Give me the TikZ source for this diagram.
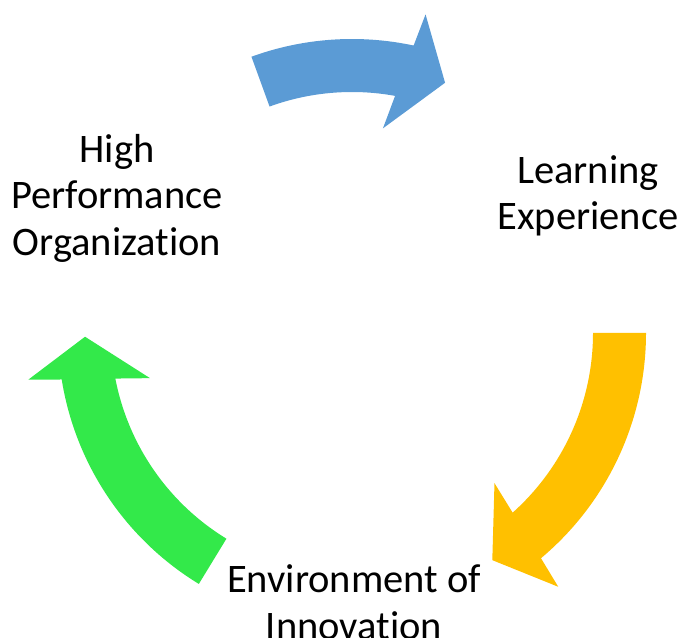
\documentclass[tikz,border=0pt]{standalone}
\usepackage{fontspec}
\setmainfont{Carlito}[Ligatures=NoCommon]
\usepackage{tikz}

\definecolor{cycleblue}{RGB}{91,155,213}
\definecolor{cycleyellow}{RGB}{255,192,0}
\definecolor{cyclegreen}{RGB}{51,233,74}

% curved block arrow: #1 tail angle, #2 head angle, #3 colour
\newcommand{\cyclearrow}[3]{%
  \fill[#3] ([shift={(#1:294)}]ctr) arc[start angle=#1, end angle=#2, radius=294]
    -- ([shift={({#2-0.9}:327)}]ctr)
    -- ([shift={({#2-8.3}:267)}]ctr)
    -- ([shift={({#2+3.5}:207)}]ctr)
    -- ([shift={({#2+1.8}:241)}]ctr)
    arc[start angle={#2+1.8}, end angle=#1, radius=241] -- cycle;%
}

\begin{document}
\begin{tikzpicture}[
    x=1pt, y=1pt,
    stage/.style={align=center, inner sep=0pt, font=\fontsize{40.5}{46.5}\selectfont}
]

\useasboundingbox (0,0) rectangle (684,637);

% centro del ciclo
\coordinate (ctr) at (352,304);

% flechas
\cyclearrow{110}{77.9}{cycleblue}
\cyclearrow{0}{-50}{cycleyellow}
\cyclearrow{238.6}{189.1}{cyclegreen}

% etapas
\node (hpo) [stage] at (117,439) {High\\Performance\\Organization};
\node (learn) [stage] at (588,441) {Learning\\Experience};
\node (innov) [stage] at (354,35) {Environment of\\Innovation};

\end{tikzpicture}
\end{document}
